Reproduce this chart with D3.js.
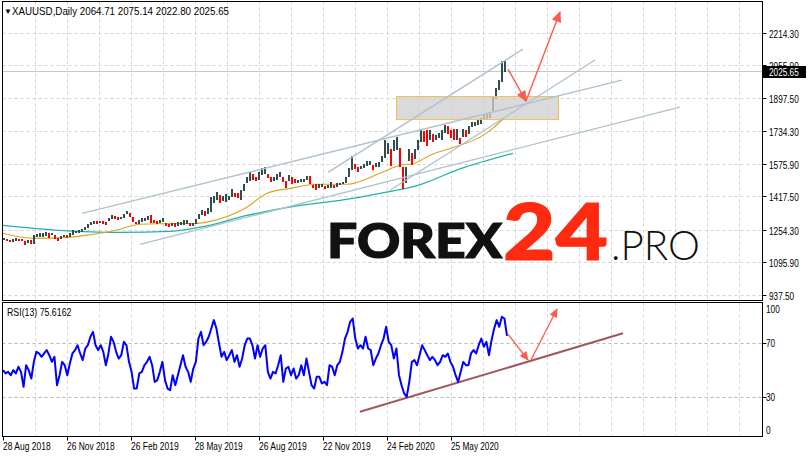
<!DOCTYPE html>
<html><head><meta charset="utf-8">
<script src="https://cdn.jsdelivr.net/npm/d3@7/dist/d3.min.js"></script>
<style>
html,body{margin:0;padding:0;background:#fff;}
svg{display:block;}
.lbl{font-family:"Liberation Sans","DejaVu Sans",sans-serif;font-size:10.5px;fill:#000;}
</style></head><body>
<svg id="c" width="808" height="458"></svg>
<script>
// ---------------- DATA ----------------
const symbol = "XAUUSD,Daily";
const ohlcLast = ["2064.71", "2075.14", "2022.80", "2025.65"];
const lastPrice = 2025.65;
const rsiTitle = "RSI(13) 75.6162";
const priceTicks = [2214.30, 2055.90, 1897.50, 1734.30, 1575.90, 1417.50, 1254.30, 1095.90, 937.50];
const rsiTicks = [100, 70, 30, 0];
const rsiLevels = [70, 30];
const dateLabels = ["28 Aug 2018", "26 Nov 2018", "26 Feb 2019", "28 May 2019", "26 Aug 2019", "22 Nov 2019", "24 Feb 2020", "25 May 2020"];
const dateLabelBars = [0, 64, 128, 192, 256, 320, 384, 448];
const barsPerChunk = 3; // each entry below = 3 daily bars (highest high / lowest low)
const chunkHigh = [1214,1208,1203,1207,1212,1210,1208,1200,1205,1204,
 1228,1234,1236,1238,1243,1237,1239,1230,1215,1225,
 1229,1226,1235,1250,1248,1251,1256,1268,1283,1290,
 1298,1296,1298,1295,1290,1310,1326,1320,1315,1316,
 1330,1346,1334,1316,1292,1300,1310,1312,1320,1325,
 1300,1295,1300,1310,1288,1280,1288,1286,1290,1290,
 1300,1303,1286,1285,1306,1330,1348,1345,1358,1411,
 1420,1439,1425,1420,1428,1420,1452,1434,1432,1448,
 1475,1510,1535,1525,1512,1535,1555,1557,1525,1510,
 1512,1525,1535,1512,1490,1518,1512,1500,1498,1500,
 1500,1516,1515,1472,1475,1478,1475,1465,1470,1485,
 1473,1480,1482,1485,1512,1553,1611,1575,1560,1565,
 1573,1591,1590,1570,1578,1585,1612,1689,1676,1645,
 1692,1704,1650,1560,1560,1645,1630,1645,1690,1747,
 1735,1738,1740,1722,1715,1723,1742,1765,1760,1740,
 1745,1745,1700,1744,1740,1760,1780,1780,1789,1800,
 1818,1817,1825,1908,1945,1984,2075,2075];
const chunkLow = [1203,1196,1193,1194,1198,1199,1196,1180,1187,1183,
 1185,1218,1220,1220,1225,1212,1226,1208,1196,1210,
 1218,1213,1220,1230,1236,1238,1240,1250,1262,1275,
 1282,1283,1285,1280,1276,1295,1305,1308,1302,1304,
 1312,1330,1315,1290,1280,1283,1292,1298,1303,1288,
 1284,1280,1285,1292,1270,1266,1272,1266,1270,1278,
 1275,1280,1270,1272,1280,1305,1325,1320,1330,1340,
 1382,1400,1382,1395,1388,1400,1412,1412,1410,1400,
 1440,1480,1490,1495,1490,1495,1520,1525,1505,1485,
 1490,1495,1510,1485,1459,1490,1475,1480,1482,1488,
 1488,1495,1478,1456,1445,1457,1460,1450,1455,1455,
 1455,1460,1470,1475,1480,1510,1545,1550,1536,1550,
 1553,1565,1570,1547,1560,1561,1584,1605,1625,1563,
 1636,1640,1560,1451,1482,1590,1567,1600,1642,1680,
 1680,1660,1690,1680,1690,1700,1690,1725,1720,1700,
 1690,1690,1670,1705,1705,1720,1755,1760,1765,1770,
 1795,1794,1800,1830,1890,1935,1975,2023];
const maFastBars = [0,32,64,82,112,137,172,192,207,242,264,287,314,344,377,397,410,427,457,477,490,502];
const maFastVals = [1235,1211,1216,1226,1250,1280,1284,1284,1294,1358,1431,1455,1475,1475,1529,1568,1575,1617,1665,1705,1749,1802];
const maSlowBars = [0,57,117,167,202,244,297,337,377,415,457,510];
const maSlowVals = [1275,1250,1240,1245,1270,1323,1372,1397,1431,1470,1550,1626];
const trendLines = [
  [[79, 1333], [619, 1983]],
  [[325, 1533], [520, 2134]],
  [[387, 1446], [592, 2081]],
  [[137, 1182], [677, 1851]]
];
const zoneBars = [393, 555];
const zonePrices = [1792.5, 1905];
const priceArrows = [
  [[505, 2037], [523, 1881]],
  [[523, 1881], [557, 2315]]
];
const rsiValues = [49.9,47.4,48.6,46.1,49.9,47.4,52.4,48.6,37.4,53.6,49.9,43.6,56.1,63.6,62.4,59.9,62.4,64.9,61.1,56.1,
 59.9,38.6,46.1,56.1,53.6,46.1,54.9,62.4,64.9,68.6,62.4,57.4,66.1,68.6,74.9,78.6,68.6,64.9,68.6,63.6,
 53.6,62.4,74.9,71.1,63.6,58.6,61.1,71.1,68.6,56.1,48.6,36.1,36.1,47.4,48.6,53.6,56.1,59.9,53.6,41.1,
 42.4,48.6,56.1,42.4,36.1,34.9,46.1,38.6,46.1,53.6,61.1,52.4,48.6,41.1,51.1,56.1,73.6,78.6,68.6,71.1,
 74.9,81.1,87.4,81.1,69.9,59.9,63.6,57.4,61.1,64.9,56.1,61.1,52.4,58.6,68.6,73.6,73.6,68.6,58.6,68.6,
 59.9,66.1,68.6,48.6,43.6,48.6,47.4,53.6,61.1,41.1,51.1,52.4,46.1,51.1,43.6,46.1,53.6,46.1,58.6,48.6,
 38.6,36.1,44.9,44.9,39.9,41.1,38.6,53.6,52.4,46.1,53.6,56.1,63.6,73.6,78.6,86.1,88.6,73.6,66.1,68.6,
 66.1,74.9,66.1,64.9,53.6,58.6,62.4,68.6,73.6,82.4,71.1,68.6,58.6,66.1,46.1,38.6,32.4,29.9,41.1,56.1,
 57.4,53.6,61.1,68.6,64.9,61.1,57.4,59.9,57.4,53.6,56.1,61.1,59.9,62.4,56.1,52.4,46.1,41.1,48.6,56.1,
 53.6,53.6,62.4,64.9,62.4,68.6,73.6,67.4,71.1,61.1,72.4,81.1,87.4,82.4,89.9,88.6,75.6];
const rsiLastBar = 504;
const rsiTrend = [[357, 18.7], [620, 77.5]];
const rsiArrows = [
  [[505, 76.9], [525, 57.5]],
  [[528, 57.5], [554, 95.7]]
];
const gridStepBars = 32;
const brandA = "FOREX", brandB = "24", brandC = ".PRO";

// ---------------- SCALES ----------------
const svg = d3.select("#c");
const mainTop = 1.5, mainBot = 300.5, rsiTop = 302.5, rsiBot = 436.5, left = 2.5, right = 762.5;
const x = d3.scaleLinear().domain([0, 759]).range([3, 762]);
const yP = d3.scaleLinear().domain([937.5, 2214.3]).range([294.5, 32.7]);
const yR = d3.scaleLinear().domain([0, 100]).range([436.7, 303.3]);
const xR = d3.scaleLinear().domain([0, rsiValues.length - 1]).range([x(0), x(rsiLastBar)]);

// narrow MT4-like label width estimate
function narrowW(s) {
  let w = 0;
  for (const c of s) {
    if (/[0-9]/.test(c)) w += 4.6;
    else if (c === "." || c === ",") w += 2.2;
    else if (c === " ") w += 2.6;
    else if (c === "(" || c === ")") w += 3.0;
    else if (/[a-z]/.test(c)) w += 4.6;
    else w += 5.6;
  }
  return w;
}
function lbl(sel, s) {
  return sel.attr("class", "lbl").attr("textLength", narrowW(s)).attr("lengthAdjust", "spacingAndGlyphs").text(s);
}

const defs = svg.append("defs");
defs.append("clipPath").attr("id", "cm").append("rect").attr("x", 3).attr("y", 2).attr("width", 759).attr("height", 298);
defs.append("clipPath").attr("id", "cr").append("rect").attr("x", 3).attr("y", 303).attr("width", 759).attr("height", 133);
function mk(id, w, h) {
  defs.append("marker").attr("id", id).attr("viewBox", "0 0 10 10").attr("refX", 9).attr("refY", 5)
    .attr("markerUnits", "userSpaceOnUse").attr("markerWidth", w).attr("markerHeight", h).attr("orient", "auto")
    .append("path").attr("d", "M0,0.5 L10,5 L0,9.5 Z").attr("fill", "#FF5A4E");
}
mk("ah", 13, 11); mk("ahs", 11, 9);

svg.append("rect").attr("width", 808).attr("height", 458).attr("fill", "#fff");

// ---------------- GRID ----------------
const grid = svg.append("g").attr("stroke", "#D4D4D4").attr("stroke-dasharray", "3,3").attr("stroke-width", 1);
d3.range(gridStepBars, 760, gridStepBars).forEach(b => {
  const gx = Math.round(x(b)) + 0.5;
  grid.append("line").attr("x1", gx).attr("x2", gx).attr("y1", mainTop).attr("y2", mainBot);
  grid.append("line").attr("x1", gx).attr("x2", gx).attr("y1", rsiTop).attr("y2", rsiBot);
});
priceTicks.forEach(v => {
  const gy = Math.round(yP(v)) + 0.5;
  grid.append("line").attr("x1", left).attr("x2", right).attr("y1", gy).attr("y2", gy);
});
rsiLevels.forEach(v => {
  const gy = Math.round(yR(v)) + 0.5;
  svg.append("line").attr("x1", left).attr("x2", right).attr("y1", gy).attr("y2", gy)
    .attr("stroke", "#B8B8B8").attr("stroke-dasharray", "3,3");
});

// ---------------- WATERMARK ----------------
const wm = svg.append("g").style("font-family", "Lato, Inter, 'Open Sans', sans-serif");
wm.append("text").attr("x", 327).attr("y", 258).attr("font-size", 47).attr("font-weight", 900).attr("fill", "#111")
  .attr("stroke", "#111").attr("stroke-width", 1.2)
  .attr("textLength", 175).attr("lengthAdjust", "spacingAndGlyphs").text(brandA);
wm.append("text").attr("x", 503).attr("y", 260).attr("font-size", 79).attr("font-weight", 900).attr("fill", "#FE2B10")
  .attr("stroke", "#FE2B10").attr("stroke-width", 1.2)
  .attr("textLength", 105).attr("lengthAdjust", "spacingAndGlyphs").text(brandB);
wm.append("text").attr("x", 611).attr("y", 260).attr("font-size", 41).attr("font-weight", 300).attr("fill", "#111")
  .attr("textLength", 89).attr("lengthAdjust", "spacingAndGlyphs").text(brandC);

// ---------------- MAIN PANEL DATA ----------------
const gm = svg.append("g").attr("clip-path", "url(#cm)");
gm.append("line").attr("x1", left).attr("x2", right).attr("y1", Math.round(yP(lastPrice)) + 0.5).attr("y2", Math.round(yP(lastPrice)) + 0.5)
  .attr("stroke", "#C8C8C8");
const lineGen = d3.line().curve(d3.curveMonotoneX);
gm.append("path").attr("d", lineGen(maSlowBars.map((b, i) => [x(b), yP(maSlowVals[i])])))
  .attr("fill", "none").attr("stroke", "#20B2AA").attr("stroke-width", 1.3);
gm.append("path").attr("d", lineGen(maFastBars.map((b, i) => [x(b), yP(maFastVals[i])])))
  .attr("fill", "none").attr("stroke", "#DAA520").attr("stroke-width", 1.1);

const chunks = chunkHigh.map((h, k) => ({k, h, l: chunkLow[k]}));
gm.append("g").attr("shape-rendering", "crispEdges").selectAll("rect").data(chunks).join("rect")
  .attr("x", d => x(d.k * barsPerChunk))
  .attr("width", x(barsPerChunk) - x(0) - 1)
  .attr("y", d => yP(d.h))
  .attr("height", d => Math.max(1, yP(d.l) - yP(d.h)))
  .attr("fill", d => {
    if (d.k === 0) return "#2F4F4F";
    const p = chunks[d.k - 1];
    return (d.h + d.l) >= (p.h + p.l) ? "#2F4F4F" : "#FF0000";
  });

gm.append("rect").attr("x", x(zoneBars[0]) + 0.5).attr("y", Math.round(yP(zonePrices[1])) + 0.5)
  .attr("width", x(zoneBars[1]) - x(zoneBars[0])).attr("height", yP(zonePrices[0]) - yP(zonePrices[1]))
  .attr("fill", "#CFCFCF").attr("fill-opacity", 0.78).attr("stroke", "#F2C14E").attr("stroke-width", 1);

trendLines.forEach(tl => {
  gm.append("line").attr("x1", x(tl[0][0])).attr("y1", yP(tl[0][1])).attr("x2", x(tl[1][0])).attr("y2", yP(tl[1][1]))
    .attr("stroke", "#AEC2CF").attr("stroke-width", 1.4);
});
priceArrows.forEach(a => {
  gm.append("line").attr("x1", x(a[0][0])).attr("y1", yP(a[0][1])).attr("x2", x(a[1][0])).attr("y2", yP(a[1][1]))
    .attr("stroke", "#FF5A4E").attr("stroke-width", 1.4).attr("marker-end", "url(#ah)");
});

// ---------------- RSI PANEL ----------------
const gr = svg.append("g").attr("clip-path", "url(#cr)");
gr.append("line").attr("x1", x(rsiTrend[0][0])).attr("y1", yR(rsiTrend[0][1])).attr("x2", x(rsiTrend[1][0])).attr("y2", yR(rsiTrend[1][1]))
  .attr("stroke", "#A0585C").attr("stroke-width", 2);
gr.append("path").attr("d", d3.line()(rsiValues.map((v, i) => [xR(i), yR(v)])))
  .attr("fill", "none").attr("stroke", "#0000FF").attr("stroke-width", 2).attr("stroke-linejoin", "round");
rsiArrows.forEach(a => {
  gr.append("line").attr("x1", x(a[0][0])).attr("y1", yR(a[0][1])).attr("x2", x(a[1][0])).attr("y2", yR(a[1][1]))
    .attr("stroke", "#FF5A4E").attr("stroke-width", 1.3).attr("marker-end", "url(#ahs)");
});

// ---------------- FRAMES ----------------
const fr = svg.append("g").attr("fill", "none").attr("stroke", "#000").attr("stroke-width", 1).attr("shape-rendering", "crispEdges");
fr.append("rect").attr("x", left).attr("y", mainTop).attr("width", right - left).attr("height", mainBot - mainTop);
fr.append("rect").attr("x", left).attr("y", rsiTop).attr("width", right - left).attr("height", rsiBot - rsiTop);

// ---------------- AXES / LABELS ----------------
const fmt = d3.format(".2f");
priceTicks.forEach(v => {
  const ty = Math.round(yP(v)) + 0.5;
  svg.append("line").attr("x1", right).attr("x2", right + 4).attr("y1", ty).attr("y2", ty).attr("stroke", "#000");
  lbl(svg.append("text").attr("x", 769).attr("y", ty + 4), fmt(v));
});
const ly = Math.round(yP(lastPrice));
svg.append("rect").attr("x", right + 0.5).attr("y", ly - 5).attr("width", 43).attr("height", 12).attr("fill", "#000");
lbl(svg.append("text").attr("x", 769).attr("y", ly + 5), fmt(lastPrice)).style("fill", "#fff");

rsiTicks.forEach(v => {
  const cy = Math.max(rsiTop + 6, Math.min(rsiBot - 6.5, yR(v)));
  if (v !== 100 && v !== 0) {
    const ty = Math.round(yR(v)) + 0.5;
    svg.append("line").attr("x1", right).attr("x2", right + 4).attr("y1", ty).attr("y2", ty).attr("stroke", "#000");
  }
  lbl(svg.append("text").attr("x", 766).attr("y", cy + 4), String(v));
});

dateLabels.forEach((t, i) => {
  const tx = Math.round(x(dateLabelBars[i])) + 0.5;
  svg.append("line").attr("x1", tx).attr("x2", tx).attr("y1", rsiBot).attr("y2", rsiBot + 4).attr("stroke", "#000");
  lbl(svg.append("text").attr("x", x(dateLabelBars[i])).attr("y", 450), t);
});

svg.append("text").attr("class", "lbl").attr("x", 4).attr("y", 14).style("font-size", "8px").text("\u25BC");
svg.append("text").attr("class", "lbl").attr("x", 12).attr("y", 15)
  .attr("textLength", 217).attr("lengthAdjust", "spacingAndGlyphs")
  .text(symbol + "  " + ohlcLast.join(" "));
lbl(svg.append("text").attr("x", 7).attr("y", 316), rsiTitle);
</script>
</body></html>
